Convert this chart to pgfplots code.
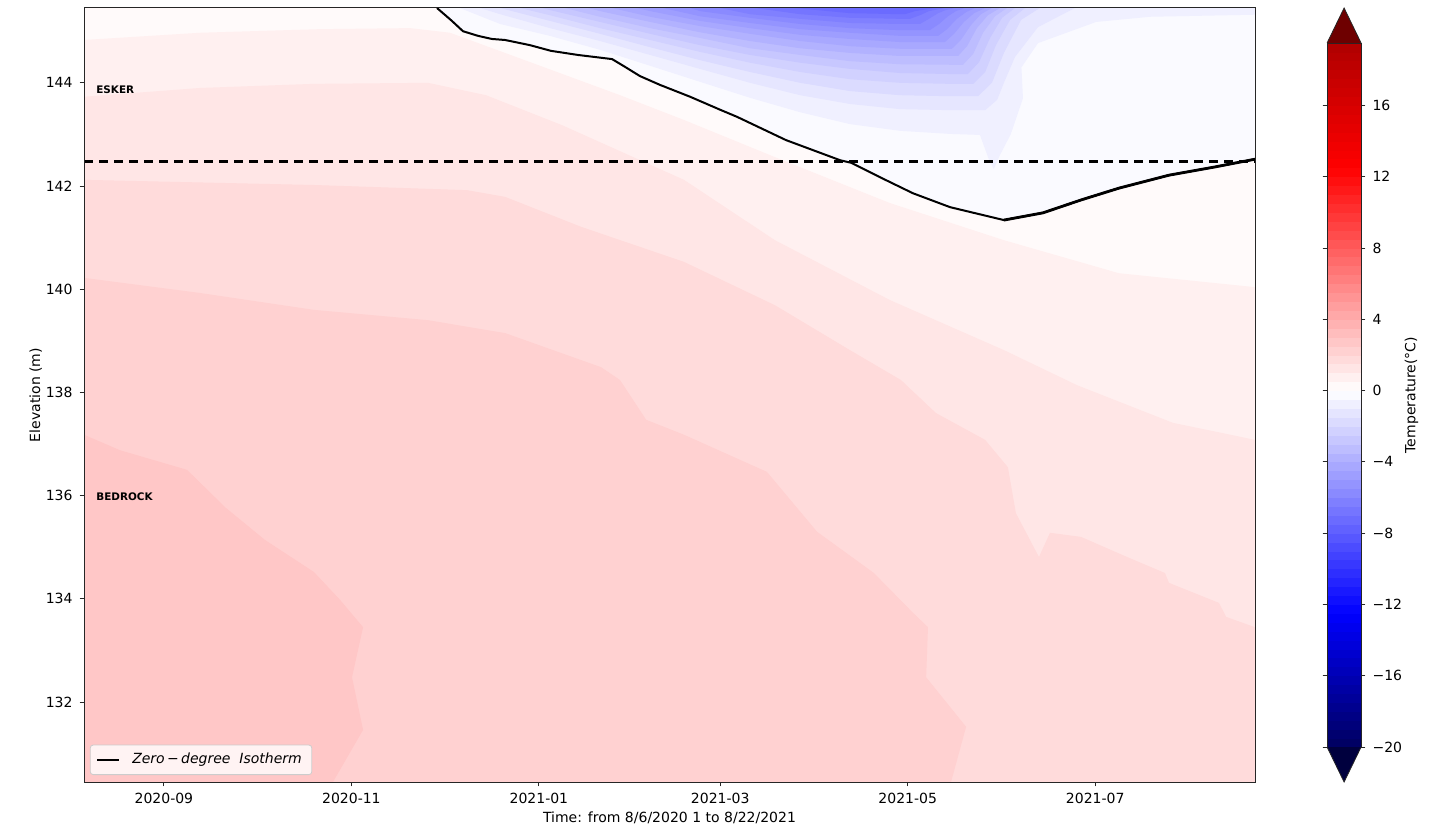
\documentclass[border=0pt]{standalone}
\usepackage{fontspec}
\setmainfont{DejaVu Sans}
\usepackage{pgfplots}
\pgfplotsset{compat=1.18}

% band colours (seismic colormap, 0.5 degC levels)
\definecolor{cA}{RGB}{255,250,250}
\definecolor{cB}{RGB}{255,240,240}
\definecolor{cC}{RGB}{255,230,230}
\definecolor{cD}{RGB}{255,219,219}
\definecolor{cE}{RGB}{255,209,209}
\definecolor{cF}{RGB}{255,199,199}
\definecolor{n0}{RGB}{250,250,255}
\definecolor{n1}{RGB}{240,240,255}
\definecolor{n2}{RGB}{230,230,255}
\definecolor{n3}{RGB}{219,219,255}
\definecolor{n4}{RGB}{209,209,255}
\definecolor{n5}{RGB}{199,199,255}
\definecolor{n6}{RGB}{189,189,255}
\definecolor{n7}{RGB}{178,178,255}
\definecolor{n8}{RGB}{168,168,255}
\definecolor{n9}{RGB}{158,158,255}
\definecolor{n10}{RGB}{148,148,255}
\definecolor{n11}{RGB}{138,138,255}
\definecolor{n12}{RGB}{128,128,255}
\definecolor{n13}{RGB}{117,117,255}
\definecolor{n14}{RGB}{107,107,255}
\definecolor{cbtop}{RGB}{110,0,0}
\definecolor{cbbot}{RGB}{0,0,62}

\pgfplotsset{colormap={seis}{rgb255(0pt)=(0,0,95) rgb255(7.5pt)=(0,0,255) rgb255(20pt)=(255,255,255) rgb255(32.5pt)=(255,0,0) rgb255(39.5pt)=(175,0,0)}}

\begin{document}
\begin{tikzpicture}
\begin{axis}[
  name=main,
  scale only axis, width=585.5pt, height=387pt,
  xmin=5, xmax=386, ymin=130.45, ymax=145.45,
  axis on top,
  xtick={31,92,153,212,273,334},
  xticklabels={2020-09,2020-11,2021-01,2021-03,2021-05,2021-07},
  ytick={132,134,136,138,140,142,144},
  xtick pos=left, ytick pos=left,
  tick align=outside, major tick length=2.2pt,
  tick style={black!85, line width=0.45pt},
  axis line style={black!85, line width=0.5pt},
  ticklabel style={font=\fontsize{7}{8}\selectfont},
  /pgf/number format/assume math mode=true,
  label style={font=\fontsize{7}{8}\selectfont},
  xlabel={Time: from 8/6/2020 1 to 8/22/2021},
  ylabel={Elevation (m)},
  xlabel style={yshift=3pt},
  ylabel style={yshift=-5pt},
  title={Temperature (°C) Distribution},
  title style={at={(0.5,1)}, anchor=base, yshift=2.5pt, font=\bfseries\fontsize{10}{12}\selectfont},
  colormap name=seis,
  point meta min=-20, point meta max=19.5,
  colorbar sampled,
  colorbar style={
    at={([xshift=36.5pt]parent axis.east)}, anchor=west, xshift=27.5pt,
    scale only axis, width=17pt, height=352pt,
    samples=80,
    ytick={-20,-16,-12,-8,-4,0,4,8,12,16},
    yticklabels={−20,−16,−12,−8,−4,0,4,8,12,16},
    yticklabel style={font=\fontsize{7}{8}\selectfont},
    ylabel={Temperature(°C)},
    ylabel style={font=\fontsize{7}{8}\selectfont, yshift=5.5pt},
    tick align=outside, major tick length=2.2pt,
    tick style={black!85, line width=0.45pt},
    axis line style={black!85, line width=0.4pt},
    extra description/.code={
      \fill[cbtop] (rel axis cs:0,1) -- (rel axis cs:1,1) -- (rel axis cs:0.5,1.0497) -- cycle;
      \draw[black!85, line width=0.4pt] (rel axis cs:0,1) -- (rel axis cs:0.5,1.0497) -- (rel axis cs:1,1);
      \fill[cbbot] (rel axis cs:0,0) -- (rel axis cs:1,0) -- (rel axis cs:0.5,-0.0497) -- cycle;
      \draw[black!85, line width=0.4pt] (rel axis cs:0,0) -- (rel axis cs:0.5,-0.0497) -- (rel axis cs:1,0);
    },
  },
  legend style={at={(0.005,0.009)}, anchor=south west,
    font=\itshape\fontsize{7}{8}\selectfont, draw=black!20, fill=white,
    fill opacity=0.8, text opacity=1, draw opacity=1, rounded corners=1.5pt},
  legend image code/.code={\draw[#1] (0pt,0pt) -- (11pt,0pt); \path (15pt,0pt);},
]
% ---- positive bands (layered) ----
\addplot[fill=cA, draw=none, forget plot] coordinates {(0,130) (390,130) (390,146) (0,146)} -- cycle;
% T > 0.5
\addplot[fill=cB, draw=none, forget plot] coordinates {(0,144.83) (5,144.83) (42.7,144.97) (81.8,145.04) (111.1,145.06) (124.1,144.97) (154.3,144.31) (179.4,143.76) (200.2,143.28) (229.8,142.56) (267.2,141.67) (304.3,140.95) (341.7,140.31) (386,140.04) (390,140.04) (390,130) (0,130)} -- cycle;
% T > 1.0
\addplot[fill=cC, draw=none, forget plot] coordinates {(0,143.73) (5,143.73) (42.7,143.90) (79.8,143.98) (116.9,144.00) (135.8,143.76) (160.5,143.18) (200.2,142.12) (229.8,140.95) (267.2,139.79) (304.3,138.82) (328.1,138.14) (359.3,137.41) (375.6,137.21) (386,137.08) (390,137.08) (390,130) (0,130)} -- cycle;
% T > 1.5
\addplot[fill=cD, draw=none, forget plot] coordinates {(0,142.12) (5,142.12) (79.8,142.02) (129.6,141.92) (142.0,141.79) (166.7,141.21) (200.2,140.53) (229.8,139.69) (254.2,138.82) (270.8,138.24) (282.2,137.60) (298.2,137.08) (305.6,136.55) (308.2,135.66) (315.7,134.81) (319.3,135.28) (329.4,135.20) (344.4,134.81) (356.7,134.50) (358.0,134.31) (374.3,133.92) (376.6,133.65) (386,133.45) (390,133.45) (390,130) (0,130)} -- cycle;
% T > 2.0
\addplot[fill=cE, draw=none, forget plot] coordinates {(0,140.22) (5,140.22) (42.4,139.93) (79.8,139.60) (116.9,139.40) (142.0,139.15) (173.2,138.49) (179.4,138.24) (187.9,137.47) (200.2,137.18) (227.2,136.46) (243.5,135.30) (262.0,134.50) (274.7,133.73) (279.6,133.45) (279.0,132.48) (292.0,131.52) (287.1,130.45) (287,130) (0,130)} -- cycle;
% T > 2.5
\addplot[fill=cF, draw=none, forget plot] coordinates {(0,137.18) (5,137.18) (16.7,136.88) (38.5,136.50) (51.2,135.76) (63.9,135.14) (79.8,134.52) (88.3,133.98) (95.8,133.45) (92.2,132.48) (95.8,131.46) (86.0,130.45) (86,130) (0,130)} -- cycle;
% ---- negative bands ----
\addplot[fill=n0, draw=none, forget plot] coordinates {(119.85,145.6) (119.85,145.45) (124.7,145.20) (128.3,145.00) (133.2,144.91) (137.7,144.85) (142.0,144.83) (150.1,144.73) (156.9,144.62) (165.7,144.54) (176.8,144.46) (181.0,144.31) (185.9,144.13) (192.4,143.96) (202.2,143.73) (212.3,143.47) (217.5,143.34) (233.4,142.89) (251.0,142.50) (254.6,142.45) (264.0,142.17) (274.7,141.86) (286.8,141.59) (304.3,141.34) (317.0,141.48) (329.4,141.73) (341.8,141.96) (358.0,142.21) (373.0,142.37) (386,142.52) (390,142.52) (390,145.6)} -- cycle;
\addplot[fill=n1, draw=none, forget plot] coordinates {(127.3,145.6) (127.3,145.45) (140.4,145.14) (156.6,144.91) (172.9,144.64) (189.2,144.33) (205.4,144.02) (221.7,143.71) (238.0,143.43) (254.2,143.20) (270.5,143.07) (286.8,143.01) (296.5,142.99) (299.5,142.5) (301.0,142.33) (303.0,142.6) (306.5,143.0) (310.5,143.7) (310.0,144.3) (315.4,144.77) (334.3,145.18) (351.8,145.28) (386,145.32) (390,145.32) (390,145.6)} -- cycle;
\addplot[fill=n2, draw=none, forget plot] coordinates {(133.8,145.6) (133.8,145.45) (140.4,145.33) (156.6,145.06) (172.9,144.81) (189.2,144.54) (205.4,144.27) (221.7,144.00) (238.0,143.76) (254.2,143.59) (270.5,143.49) (286.8,143.47) (298.2,143.47) (302.1,143.67) (304.3,144.00) (307.9,144.50) (315.4,145.08) (327.4,145.45) (327.4,145.6)} -- cycle;
\addplot[fill=n3, draw=none, forget plot] coordinates {(140.4,145.6) (140.4,145.45) (156.6,145.20) (172.9,144.95) (189.2,144.69) (205.4,144.44) (221.7,144.21) (238.0,144.00) (254.2,143.84) (270.5,143.76) (286.8,143.74) (295.9,143.74) (300.4,144.00) (304.3,144.58) (309.9,145.22) (316.0,145.45) (316.0,145.6)} -- cycle;
\addplot[fill=n4, draw=none, forget plot] coordinates {(146.9,145.6) (146.9,145.45) (156.6,145.31) (172.9,145.06) (189.2,144.83) (205.4,144.60) (221.7,144.39) (238.0,144.21) (254.2,144.07) (270.5,144.00) (286.8,143.98) (294.3,143.98) (298.2,144.21) (301.7,144.73) (306.3,145.22) (311.2,145.45) (311.2,145.6)} -- cycle;
\addplot[fill=n5, draw=none, forget plot] coordinates {(154.0,145.6) (154.0,145.45) (156.6,145.41) (172.9,145.18) (189.2,144.95) (205.4,144.73) (221.7,144.54) (238.0,144.39) (254.2,144.27) (270.5,144.19) (286.8,144.17) (292.6,144.17) (296.2,144.40) (299.8,144.87) (303.7,145.26) (307.9,145.45) (307.9,145.6)} -- cycle;
\addplot[fill=n6, draw=none, forget plot] coordinates {(161.5,145.6) (161.5,145.45) (172.9,145.28) (189.2,145.06) (205.4,144.87) (221.7,144.67) (238.0,144.54) (254.2,144.42) (270.5,144.36) (286.8,144.35) (291.0,144.35) (294.3,144.56) (297.5,144.97) (301.4,145.29) (305.3,145.45) (305.3,145.6)} -- cycle;
\addplot[fill=n7, draw=none, forget plot] coordinates {(169.0,145.6) (169.0,145.45) (172.9,145.39) (189.2,145.18) (205.4,144.98) (221.7,144.81) (238.0,144.67) (254.2,144.58) (270.5,144.52) (286.8,144.52) (289.4,144.52) (292.3,144.71) (295.5,145.06) (299.1,145.31) (303.0,145.45) (303.0,145.6)} -- cycle;
\addplot[fill=n8, draw=none, forget plot] coordinates {(176.8,145.6) (176.8,145.45) (189.2,145.28) (205.4,145.10) (221.7,144.95) (238.0,144.81) (254.2,144.71) (270.5,144.66) (286.8,144.66) (287.4,144.66) (290.3,144.83) (293.6,145.12) (296.8,145.33) (300.4,145.45) (300.4,145.6)} -- cycle;
\addplot[fill=n9, draw=none, forget plot] coordinates {(184.9,145.6) (184.9,145.45) (189.2,145.39) (205.4,145.20) (221.7,145.06) (238.0,144.93) (254.2,144.85) (270.5,144.79) (285.1,144.79) (288.1,144.95) (291.3,145.18) (294.6,145.35) (298.2,145.45) (298.2,145.6)} -- cycle;
\addplot[fill=n10, draw=none, forget plot] coordinates {(193.4,145.6) (193.4,145.45) (205.4,145.29) (221.7,145.16) (238.0,145.04) (254.2,144.97) (270.5,144.91) (282.9,144.91) (285.8,145.04) (289.0,145.24) (292.0,145.37) (294.9,145.45) (294.9,145.6)} -- cycle;
\addplot[fill=n11, draw=none, forget plot] coordinates {(202.2,145.6) (202.2,145.45) (205.4,145.39) (221.7,145.26) (238.0,145.14) (254.2,145.06) (270.5,145.02) (280.2,145.02) (283.2,145.14) (286.1,145.29) (288.7,145.39) (291.6,145.45) (291.6,145.6)} -- cycle;
\addplot[fill=n12, draw=none, forget plot] coordinates {(211.9,145.6) (211.9,145.45) (221.7,145.33) (238.0,145.24) (254.2,145.16) (270.5,145.14) (277.0,145.14) (279.9,145.24) (282.9,145.35) (285.4,145.41) (288.4,145.45) (288.4,145.6)} -- cycle;
\addplot[fill=n13, draw=none, forget plot] coordinates {(223.3,145.6) (223.3,145.45) (238.0,145.33) (254.2,145.26) (270.5,145.24) (273.7,145.24) (277.0,145.31) (279.9,145.39) (285.1,145.45) (285.1,145.6)} -- cycle;
\addplot[fill=n14, draw=none, forget plot] coordinates {(236.3,145.6) (236.3,145.45) (254.2,145.35) (270.5,145.33) (272.1,145.33) (275.4,145.39) (281.9,145.45) (281.9,145.6)} -- cycle;
% ---- dashed esker/bedrock line ----
\addplot[black, line width=1.3pt, dash pattern=on 4.7pt off 2.8pt, forget plot] coordinates {(5,142.47) (386,142.47)};
% ---- zero-degree isotherm ----
\addplot[black, line width=1pt] coordinates {(119.85,145.45) (124.7,145.20) (128.3,145.00) (133.2,144.91) (137.7,144.85) (142.0,144.83) (150.1,144.73) (156.9,144.62) (165.7,144.54) (176.8,144.46) (181.0,144.31) (185.9,144.13) (192.4,143.96) (202.2,143.73) (212.3,143.47) (217.5,143.34) (233.4,142.89) (251.0,142.50) (254.6,142.45) (264.0,142.17) (274.7,141.86) (286.8,141.59) (304.3,141.34) (317.0,141.48) (329.4,141.73) (341.8,141.96) (358.0,142.21) (373.0,142.37) (386,142.52)};
\addlegendentry{Zero\,−\,degree\ \ Isotherm}
\addplot[black, line width=1.4pt, forget plot] coordinates {(304.3,141.34) (317.0,141.48) (329.4,141.73) (341.8,141.96) (358.0,142.21) (373.0,142.37) (386,142.52)};
% ---- labels ----
\node[anchor=west, inner sep=0pt, font=\bfseries\fontsize{5.2}{6}\selectfont] at (axis cs:8.9,143.86) {ESKER};
\node[anchor=west, inner sep=0pt, font=\bfseries\fontsize{5.2}{6}\selectfont] at (axis cs:8.9,135.97) {BEDROCK};
\end{axis}
\pgfresetboundingbox
\path[use as bounding box] ([xshift=-42pt, yshift=-24.5pt]main.south west) rectangle ([xshift=99pt, yshift=4pt]main.north east);
\end{tikzpicture}
\end{document}
